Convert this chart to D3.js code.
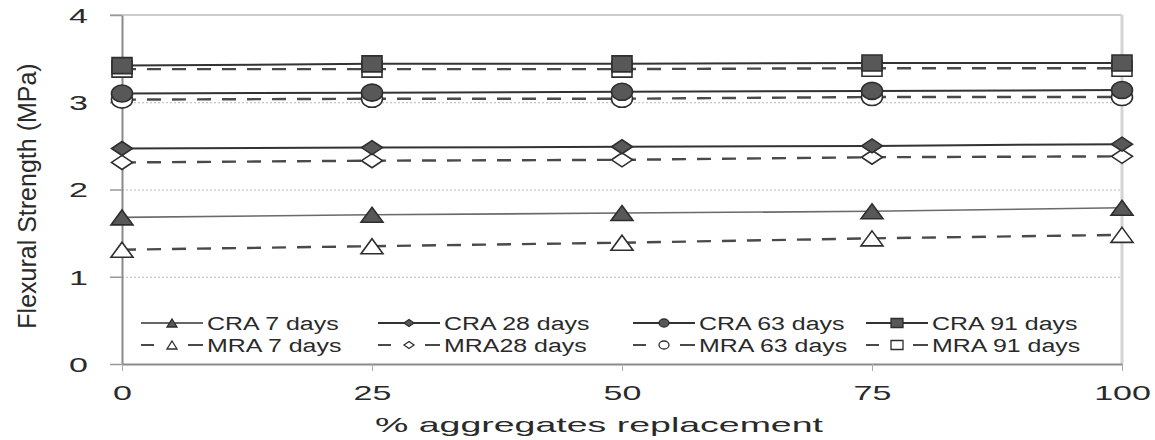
<!DOCTYPE html>
<html>
<head>
<meta charset="utf-8">
<script src="https://cdn.jsdelivr.net/npm/d3@7"></script>
<style>
  html, body { margin: 0; padding: 0; background: #fff; }
  svg { display: block; font-family: "Liberation Sans", Arial, sans-serif; }
</style>
</head>
<body>
<svg id="chart" width="1155" height="440"></svg>
<script>
// % aggregate replacement levels
const categories = [0, 25, 50, 75, 100];
const yTicks = [0, 1, 2, 3, 4];

// Flexural strength (MPa)
const cra7  = [1.68, 1.71, 1.73, 1.75, 1.79];
const mra7  = [1.31, 1.35, 1.39, 1.44, 1.48];
const cra28 = [2.47, 2.48, 2.49, 2.50, 2.52];
const mra28 = [2.31, 2.33, 2.34, 2.37, 2.38];
const cra63 = [3.10, 3.11, 3.12, 3.13, 3.14];
const mra63 = [3.03, 3.04, 3.04, 3.06, 3.06];
const cra91 = [3.42, 3.44, 3.44, 3.45, 3.45];
const mra91 = [3.38, 3.38, 3.38, 3.39, 3.39];

const seriesNames = ["CRA 7 days", "CRA 28 days", "CRA 63 days", "CRA 91 days",
                     "MRA 7 days", "MRA28 days", "MRA 63 days", "MRA 91 days"];

const xTitle = "% aggregates replacement";
const yTitle = "Flexural Strength (MPa)";

// series definitions: CRA solid + filled, MRA dashed + hollow
const series = [
  { name: seriesNames[4], values: mra7,  shape: "triangle", filled: false, dashed: true },
  { name: seriesNames[5], values: mra28, shape: "diamond",  filled: false, dashed: true },
  { name: seriesNames[6], values: mra63, shape: "circle",   filled: false, dashed: true },
  { name: seriesNames[7], values: mra91, shape: "square",   filled: false, dashed: true },
  { name: seriesNames[0], values: cra7,  shape: "triangle", filled: true,  dashed: false, thin: true },
  { name: seriesNames[1], values: cra28, shape: "diamond",  filled: true,  dashed: false },
  { name: seriesNames[2], values: cra63, shape: "circle",   filled: true,  dashed: false },
  { name: seriesNames[3], values: cra91, shape: "square",   filled: true,  dashed: false }
];

const svg = d3.select("#chart");
const plotLeft = 122, plotRight = 1122, plotTop = 15, plotBottom = 364;

const x = d3.scaleLinear().domain([0, 100]).range([plotLeft, plotRight]);
const y = d3.scaleLinear().domain([0, 4]).range([plotBottom, plotTop]);

// marker shapes with independent width / height
const markerSize = {
  triangle: [22, 15], diamond: [21, 14], circle: [21, 17], square: [20, 16]
};
const legendMarkerSize = {
  triangle: [10, 8], diamond: [10, 7], circle: [10, 8], square: [12, 9]
};
function shapePath(shape, w, h) {
  const a = w / 2, b = h / 2;
  if (shape === "triangle") return `M0,${-b}L${a},${b}L${-a},${b}Z`;
  if (shape === "diamond") return `M0,${-b}L${a},0L0,${b}L${-a},0Z`;
  if (shape === "square") return `M${-a},${-b}H${a}V${b}H${-a}Z`;
  // ellipse
  return `M${-a},0A${a},${b} 0 1,0 ${a},0A${a},${b} 0 1,0 ${-a},0Z`;
}

// gridlines
const grid = svg.append("g")
  .attr("transform", `translate(${plotLeft},0)`)
  .call(d3.axisLeft(y).tickValues([1, 2, 3]).tickSize(-(plotRight - plotLeft)).tickFormat(""));
grid.select(".domain").remove();
grid.selectAll("line").attr("stroke", "#b8b8b8").attr("stroke-width", 1.2)
  .attr("stroke-dasharray", "2,2");

// plot frame top / right
svg.append("line").attr("x1", plotLeft - 12).attr("x2", plotRight)
  .attr("y1", y(4)).attr("y2", y(4)).attr("stroke", "#bbb").attr("stroke-width", 1.5);
svg.append("line").attr("x1", plotRight).attr("x2", plotRight)
  .attr("y1", y(4)).attr("y2", y(0)).attr("stroke", "#d4d4d4").attr("stroke-width", 3);

// y axis
const yAxis = svg.append("g")
  .attr("transform", `translate(${plotLeft},0)`)
  .call(d3.axisLeft(y).tickValues(yTicks).tickSize(12).tickSizeOuter(0).tickPadding(22).tickFormat(d3.format("d")));
yAxis.select(".domain").attr("stroke", "#8a8a8a").attr("stroke-width", 2);
yAxis.selectAll(".tick line").attr("stroke", "#9a9a9a").attr("stroke-width", 1.5);
yAxis.selectAll(".tick text")
  .attr("x", null).attr("dy", "0.35em")
  .attr("transform", "translate(-34,0) scale(1.62,1)")
  .attr("font-size", 21).attr("fill", "#2a2a2a");

// x axis
const xAxis = svg.append("g")
  .attr("transform", `translate(0,${plotBottom})`)
  .call(d3.axisBottom(x).tickValues(categories).tickSize(7).tickSizeOuter(0).tickPadding(14));
xAxis.select(".domain").attr("stroke", "#8a8a8a").attr("stroke-width", 2);
xAxis.selectAll(".tick line").attr("stroke", "#aaa").attr("stroke-width", 1);
xAxis.selectAll(".tick text")
  .attr("y", null).attr("dy", null)
  .attr("transform", "translate(0,36) scale(1.62,1)")
  .attr("font-size", 21).attr("fill", "#2a2a2a");

// series lines
const line = d3.line().x((d, i) => x(categories[i])).y(d => y(d));
series.forEach(s => {
  svg.append("path")
    .datum(s.values)
    .attr("d", line)
    .attr("fill", "none")
    .attr("stroke", s.dashed ? "#4a4a4a" : (s.thin ? "#6a6a6a" : "#333"))
    .attr("stroke-width", s.dashed ? 2.4 : (s.thin ? 1.6 : 2))
    .attr("stroke-dasharray", s.dashed ? "14,11" : null);
});

// markers (hollow MRA first, filled CRA on top)
series.forEach(s => {
  const [w, h] = markerSize[s.shape];
  svg.append("g").selectAll("path")
    .data(s.values)
    .join("path")
    .attr("transform", (d, i) => `translate(${x(categories[i])},${y(d)})`)
    .attr("d", shapePath(s.shape, w, h))
    .attr("fill", s.filled ? "#585858" : "#fff")
    .attr("stroke", "#2e2e2e")
    .attr("stroke-width", 1.6);
});

// legend
const legendCols = [141, 378, 633, 866];
const legendRows = [323, 345];
const legendOrder = [
  series[4], series[5], series[6], series[7],
  series[0], series[1], series[2], series[3]
];
legendOrder.forEach((s, k) => {
  const cx = legendCols[k % 4], cy = legendRows[Math.floor(k / 4)];
  const g = svg.append("g").attr("transform", `translate(${cx},${cy})`);
  g.append("line").attr("x1", 0).attr("x2", 62).attr("y1", 0).attr("y2", 0)
    .attr("stroke", s.dashed ? "#4a4a4a" : "#333")
    .attr("stroke-width", s.thin ? 1.4 : 2)
    .attr("stroke-dasharray", s.dashed ? "13,34,15" : null);
  const [w, h] = legendMarkerSize[s.shape];
  g.append("path").attr("transform", "translate(31,0)")
    .attr("d", shapePath(s.shape, w, h))
    .attr("fill", s.filled ? "#585858" : "#fff")
    .attr("stroke", "#2e2e2e").attr("stroke-width", 1.3);
  g.append("text")
    .attr("transform", "translate(66,6.5) scale(1.385,1)")
    .attr("font-size", 18).attr("fill", "#2a2a2a")
    .text(s.name);
});

// axis titles
svg.append("text")
  .attr("x", 375).attr("y", 432)
  .attr("font-size", 21).attr("fill", "#2a2a2a")
  .attr("textLength", 448).attr("lengthAdjust", "spacingAndGlyphs")
  .text(xTitle);

svg.append("text")
  .attr("transform", "translate(36,196) rotate(-90)")
  .attr("text-anchor", "middle")
  .attr("font-size", 25).attr("fill", "#2a2a2a")
  .text(yTitle);
</script>
</body>
</html>
